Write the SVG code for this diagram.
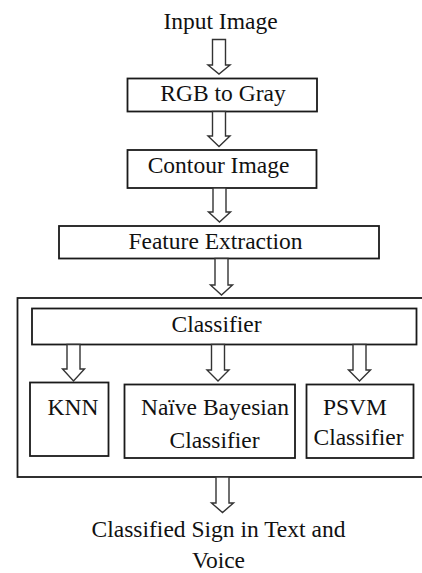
<svg xmlns="http://www.w3.org/2000/svg" width="422" height="573" viewBox="0 0 422 573">
<style>
  .box { fill: #fff; stroke: #1a1a1a; stroke-width: 1.8; }
  .arr { fill: #fff; stroke: #333; stroke-width: 1.4; stroke-linejoin: miter; }
  .t { font-size: 23.5px; fill: #111; text-anchor: middle; }
</style>
<rect width="422" height="573" fill="#fff"/>
<g id="container">
  <rect class="box" x="17.5" y="298" width="420" height="179"/>
</g>
<g font-family="Liberation Serif, DejaVu Serif, serif">
<g id="input">
  <text class="t" x="220.5" y="29">Input Image</text>
</g>
<g id="rgb2gray">
  <rect class="box" x="127.5" y="78.5" width="189.5" height="33"/>
  <text class="t" x="223" y="101">RGB to Gray</text>
</g>
<g id="contour">
  <rect class="box" x="127.5" y="150" width="189" height="38"/>
  <text class="t" x="218.5" y="173">Contour Image</text>
</g>
<g id="feature">
  <rect class="box" x="59" y="226" width="320" height="32.5"/>
  <text class="t" x="215.5" y="249">Feature Extraction</text>
</g>
<g id="classifier">
  <rect class="box" x="32" y="308.5" width="384.5" height="36"/>
  <text class="t" x="216.5" y="331.5">Classifier</text>
</g>
<g id="knn">
  <rect class="box" x="30" y="382.5" width="78.5" height="73.5"/>
  <text class="t" x="73" y="415">KNN</text>
</g>
<g id="naive">
  <rect class="box" x="124.5" y="384.5" width="170.5" height="73.5"/>
  <text class="t" x="215" y="415">Naïve Bayesian</text>
  <text class="t" x="214.5" y="448">Classifier</text>
</g>
<g id="psvm">
  <rect class="box" x="306.5" y="384.5" width="107" height="73.5"/>
  <text class="t" x="355" y="415">PSVM</text>
  <text class="t" x="358.5" y="445">Classifier</text>
</g>
<g id="output">
  <text class="t" x="218.5" y="536.5">Classified Sign in Text and</text>
  <text class="t" x="218.5" y="567.5">Voice</text>
</g>
</g>
<g id="connectors">
  <path class="arr" d="M212.5,39.5 V65 H208 L219,74 L230,65 H225.5 V39.5 Z"/>
  <path class="arr" d="M212.5,111.5 V136 H208 L219,146.5 L230,136 H225.5 V111.5 Z"/>
  <path class="arr" d="M213,188 V212 H208.5 L219.5,222 L230.5,212 H226 V188 Z"/>
  <path class="arr" d="M215,258.5 V285 H210.5 L221.5,295 L232.5,285 H228 V258.5 Z"/>
  <path class="arr" d="M67,344.5 V369 H62.5 L73.5,381 L84.5,369 H80 V344.5 Z"/>
  <path class="arr" d="M211.5,344.5 V370 H207 L218,381 L229,370 H224.5 V344.5 Z"/>
  <path class="arr" d="M353,344.5 V370 H348.5 L359.5,381 L370.5,370 H366 V344.5 Z"/>
  <path class="arr" d="M216,477 V503 H211.5 L222.5,512.5 L233.5,503 H229 V477 Z"/>
</g>
</svg>
